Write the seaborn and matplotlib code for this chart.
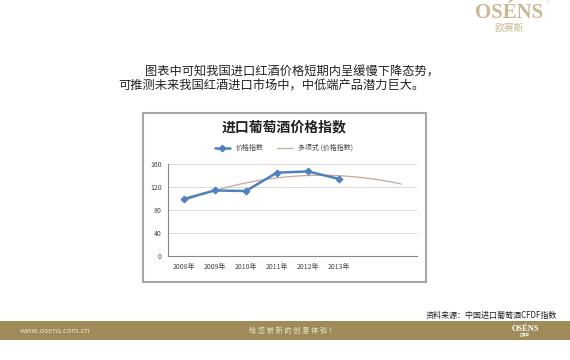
import numpy as np
import pandas as pd
import seaborn as sns
import matplotlib.pyplot as plt
from matplotlib.patches import Rectangle
from matplotlib.ticker import FixedLocator

sns.set_style('white')
plt.rcParams['font.family'] = ['Noto Sans CJK SC', 'DejaVu Sans']

# data
years = ['2008年', '2009年', '2010年', '2011年', '2012年', '2013年', '', '']
price_index = [99, 114, 113, 145, 147, 134]
y_ticks = [0, 40, 80, 120, 160]

blue = '#4f81bd'
trend_col = '#c4a898'
gold = '#9e8b58'
logo_col = '#c9b994'

df = pd.DataFrame({'pos': np.arange(len(price_index)), 'value': price_index})

fig = plt.figure(figsize=(5.7, 3.6), dpi=100)

# slide texts
fig.text(145 / 570, 1 - 72 / 360, '图表中可知我国进口红酒价格短期内呈缓慢下降态势，',
         fontsize=8.8, color='#222222', va='center')
fig.text(118 / 570, 1 - 86 / 360, '可推测未来我国红酒进口市场中，中低端产品潜力巨大。',
         fontsize=8.8, color='#222222', va='center')

# top right logo
fig.text(509 / 570, 1 - 13 / 360, 'OSÉNS', family='Liberation Serif', fontweight='bold',
         fontsize=15, color=logo_col, ha='center', va='center')
fig.text(548 / 570, 1 - 4 / 360, '®', fontsize=4, color=logo_col, ha='center', va='center')
fig.text(509 / 570, 1 - 28 / 360, '欧赛斯', fontsize=7, color=logo_col, ha='center', va='center')

# chart frame
frame = Rectangle((143 / 570, 78 / 360), 283 / 570, 169 / 360,
                  transform=fig.transFigure, facecolor='white',
                  edgecolor='#a6a6a6', linewidth=1.5)
frame.set_zorder(-2)
fig.patches.append(frame)
fig.text(284 / 570, 1 - 127 / 360, '进口葡萄酒价格指数', fontsize=10, fontweight='bold',
         color='#222222', ha='center', va='center')

ax = fig.add_axes([168 / 570, 104 / 360, 249 / 570, 92 / 360])
ax.set_zorder(2)
ax.set_facecolor('none')

# polynomial trendline, extended two periods forward
ax.set_xlim(0, len(years) - 1)
sns.regplot(data=df, x='pos', y='value', order=2, ci=None, scatter=False, truncate=False,
            line_kws=dict(color=trend_col, linewidth=0.9), ax=ax, label='多项式 (价格指数)')
sns.lineplot(data=df, x='pos', y='value', color=blue, linewidth=1.8, marker='D',
             markersize=3.5, markeredgecolor=blue, ax=ax, label='价格指数', zorder=3)

ax.set_xlim(-0.5, len(years) - 0.5)
ax.set_ylim(0, 160)
ax.set_yticks(y_ticks)
ax.set_yticklabels([str(v) for v in y_ticks], fontsize=5, color='#444444')
ax.xaxis.set_major_locator(FixedLocator(np.arange(-0.5, len(years), 1.0)))
ax.set_xticklabels([])
ax.xaxis.set_minor_locator(FixedLocator(np.arange(len(years))))
ax.set_xticklabels(years, minor=True, fontsize=5, color='#444444')
ax.tick_params(axis='x', which='major', length=2.5, color='#888888', direction='out')
ax.tick_params(axis='x', which='minor', length=0, pad=5)
ax.tick_params(axis='y', length=2.5, color='#888888', pad=2)
ax.yaxis.grid(True, color='#e0d8d4', linewidth=0.7)
ax.set_xlabel('')
ax.set_ylabel('')
for side in ['top', 'right']:
    ax.spines[side].set_visible(False)
for side in ['left', 'bottom']:
    ax.spines[side].set_color('#888888')
    ax.spines[side].set_linewidth(0.8)

handles, labels = ax.get_legend_handles_labels()
order = [labels.index('价格指数'), labels.index('多项式 (价格指数)')]
ax.legend([handles[i] for i in order], [labels[i] for i in order], loc='center',
          bbox_to_anchor=(284 / 570, 1 - 148 / 360), bbox_transform=fig.transFigure,
          ncol=2, frameon=False, fontsize=5, handlelength=2.2, columnspacing=2,
          labelcolor='#444444')

# source note
fig.text(557 / 570, 1 - 315 / 360, '资料来源：中国进口葡萄酒CFDF指数', fontsize=5.8,
         color='#222222', ha='right', va='center')

# bottom bar
bar = Rectangle((0, 20 / 360), 1, 19 / 360, transform=fig.transFigure,
                facecolor=gold, edgecolor='none')
bar.set_zorder(-2)
fig.patches.append(bar)
fig.text(20 / 570, 1 - 331 / 360, 'www.osens.com.cn', fontsize=5.6,
         color='#e9e2cc', va='center')
fig.text(293 / 570, 1 - 331 / 360, '给 您 崭 新 的 创 意 体 验 ！', fontsize=5.2,
         color='#e9e2cc', ha='center', va='center')
fig.text(525 / 570, 1 - 329 / 360, 'OSÉNS', family='Liberation Serif', fontweight='bold',
         fontsize=6, color='white', ha='center', va='center')
fig.text(525 / 570, 1 - 335 / 360, '欧赛斯', fontsize=2.5, color='white', ha='center',
         va='center')

fig.savefig('out.png', dpi=100)
